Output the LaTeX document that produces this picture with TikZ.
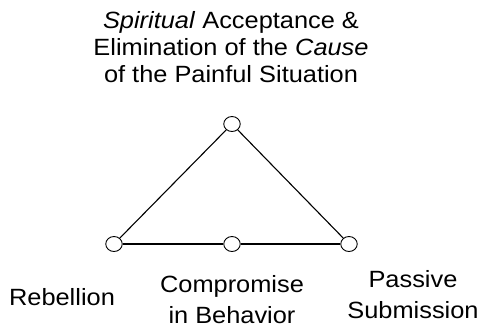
\documentclass[tikz,border=0pt]{standalone}
\usepackage{fontspec}
\setmainfont{Liberation Sans}[FakeStretch=1.08]
\usetikzlibrary{positioning,shapes.geometric}

\tikzset{
  vert/.style={draw,ellipse,fill=white,line width=0.9pt,minimum width=16.5pt,minimum height=15pt,inner sep=0pt},
  lbl/.style={align=center,anchor=base,inner sep=0pt,font=\fontsize{23.5}{27}\selectfont},
  lowlbl/.style={lbl,font=\fontsize{23.5}{31}\selectfont}
}

\begin{document}
\begin{tikzpicture}[x=1pt,y=-1pt,line width=1.1pt]
    \useasboundingbox (0,0) rectangle (482,327);
    \node[vert] (T) at (232,124) {};
    \node[vert] (L) at (114,244) {};
    \node[vert] (M) at (232,244) {};
    \node[vert] (R) at (349,244) {};
    \path
    (T) edge (L) edge (R)
    (L) edge (M)
    (M) edge (R);
    \node[lbl] (top) at (231,82) {\textit{Spiritual} Acceptance \&\\Elimination of the \textit{Cause}\\of the Painful Situation};
    \node[lbl] (reb) at (62,305) {Rebellion};
    \node[lowlbl] (comp) at (232,323) {Compromise\\in Behavior};
    \node[lowlbl] (pass) at (413,318) {Passive\\Submission};
\end{tikzpicture}
\end{document}
